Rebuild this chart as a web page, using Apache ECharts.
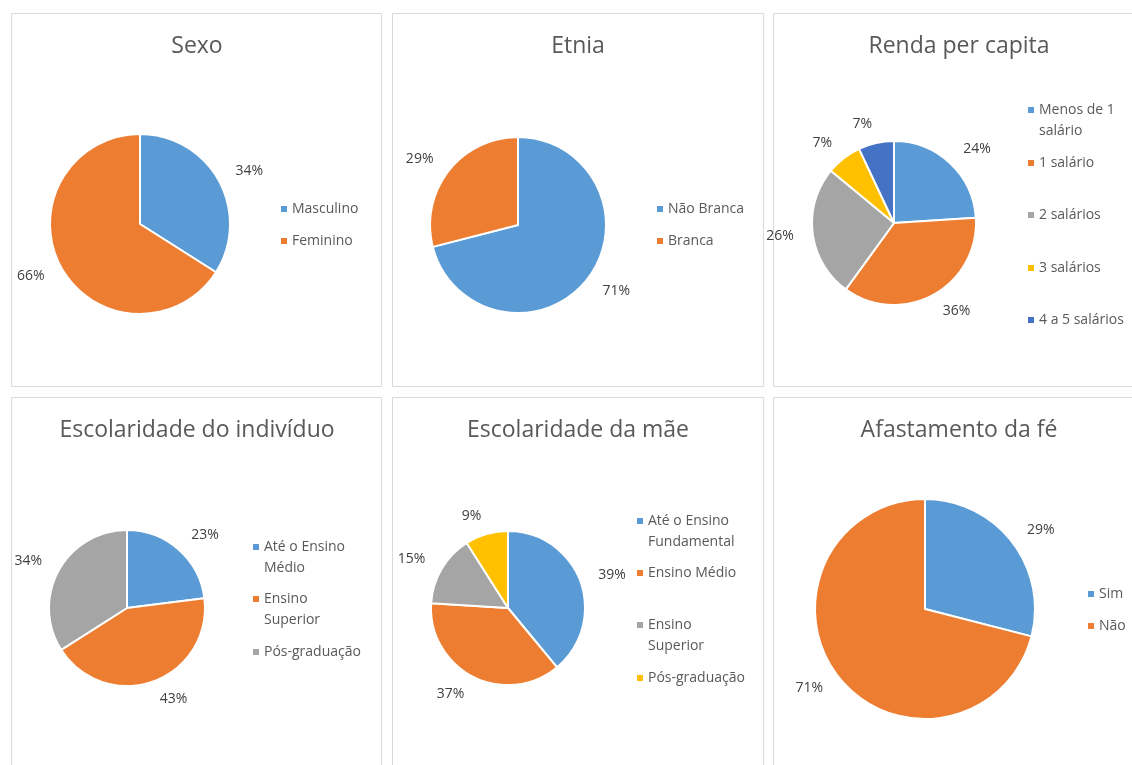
<!DOCTYPE html>
<html>
<head>
<meta charset="utf-8">
<script src="https://cdn.jsdelivr.net/npm/echarts@6/dist/echarts.min.js"></script>
<style>
html,body{margin:0;padding:0;background:#fff;}
#c{width:1132px;height:765px;}
</style>
</head>
<body>
<div id="c"></div>
<script>
// ---- data ----
const sexoCategories = ['Masculino', 'Feminino'];
const sexoValues = [34, 66];
const sexoLegend = ['Masculino', 'Feminino'];

const etniaCategories = ['Não Branca', 'Branca'];
const etniaValues = [71, 29];
const etniaLegend = ['Não Branca', 'Branca'];

const rendaCategories = ['Menos de 1 salário', '1 salário', '2 salários', '3 salários', '4 a 5 salários'];
const rendaValues = [24, 36, 26, 7, 7];
const rendaLegend = ['Menos de 1\nsalário', '1 salário', '2 salários', '3 salários', '4 a 5 salários'];

const escIndCategories = ['Até o Ensino Médio', 'Ensino Superior', 'Pós-graduação'];
const escIndValues = [23, 43, 34];
const escIndLegend = ['Até o Ensino\nMédio', 'Ensino\nSuperior', 'Pós-graduação'];

const escMaeCategories = ['Até o Ensino Fundamental', 'Ensino Médio', 'Ensino Superior', 'Pós-graduação'];
const escMaeValues = [39, 37, 15, 9];
const escMaeLegend = ['Até o Ensino\nFundamental', 'Ensino Médio', 'Ensino\nSuperior', 'Pós-graduação'];

const afastCategories = ['Sim', 'Não'];
const afastValues = [29, 71];
const afastLegend = ['Sim', 'Não'];

// ---- styling / layout ----
const FONT = '"Open Sans", "Noto Sans", sans-serif';
const COLORS = ['#5B9BD5', '#ED7D31', '#A5A5A5', '#FFC000', '#4472C4'];
const LH = 21;

const panels = [
  {title: 'Sexo', cats: sexoCategories, vals: sexoValues, leg: sexoLegend,
   center: [140, 224], r: 90, titleX: 197, titleY: 46, legX: 281, legY: [209, 241]},
  {title: 'Etnia', cats: etniaCategories, vals: etniaValues, leg: etniaLegend,
   center: [518, 225], r: 88, titleX: 578, titleY: 46, legX: 657, legY: [209, 241]},
  {title: 'Renda per capita', cats: rendaCategories, vals: rendaValues, leg: rendaLegend,
   center: [894, 223], r: 82, titleX: 959, titleY: 46, legX: 1028, legY: [110, 163, 215, 268, 320]},
  {title: 'Escolaridade do indivíduo', cats: escIndCategories, vals: escIndValues, leg: escIndLegend,
   center: [127, 608], r: 78, titleX: 197, titleY: 430, legX: 253, legY: [547, 599, 652]},
  {title: 'Escolaridade da mãe', cats: escMaeCategories, vals: escMaeValues, leg: escMaeLegend,
   center: [508, 608], r: 77, titleX: 578, titleY: 430, legX: 637, legY: [521, 573, 625, 678]},
  {title: 'Afastamento da fé', cats: afastCategories, vals: afastValues, leg: afastLegend,
   center: [925, 609], r: 110, titleX: 959, titleY: 430, legX: 1088, legY: [594, 626]}
];

const titles = [];
const legends = [];
const series = [];

panels.forEach(function (p) {
  titles.push({
    text: p.title,
    left: p.titleX,
    top: p.titleY - 15,
    textAlign: 'center',
    padding: 0,
    textStyle: {fontFamily: FONT, fontSize: 23, fontWeight: 'normal', color: '#595959', lineHeight: 30}
  });
  series.push({
    type: 'pie',
    center: p.center,
    radius: p.r,
    startAngle: 90,
    clockwise: true,
    animation: false,
    avoidLabelOverlap: true,
    itemStyle: {borderColor: '#ffffff', borderWidth: 2},
    label: {show: true, position: 'outside', formatter: '{c}%', fontFamily: FONT, fontSize: 14,
            color: '#404040', bleedMargin: 0, distanceToLabelLine: 0, padding: [10, 0, 0, 0]},
    labelLine: {show: false, length: 19, length2: 0},
    emphasis: {disabled: true},
    data: p.cats.map(function (n, i) {
      return {name: n, value: p.vals[i], itemStyle: {color: COLORS[i]}};
    })
  });
  p.cats.forEach(function (name, i) {
    const txt = p.leg[i];
    const multi = txt.indexOf('\n') >= 0;
    const boxH = (multi ? 3 : 1) * LH;
    const shown = multi ? '\n' + txt : txt;
    legends.push({
      left: p.legX,
      top: p.legY[i] - boxH / 2,
      orient: 'vertical',
      padding: 0,
      selectedMode: false,
      icon: 'rect',
      itemWidth: 6,
      itemHeight: 6,
      formatter: function () { return shown; },
      textStyle: {fontFamily: FONT, fontSize: 14, color: '#595959', lineHeight: LH},
      data: [{name: name, itemStyle: {color: COLORS[i], borderWidth: 0}}]
    });
  });
});

const borderStyle = {fill: 'none', stroke: '#D9D9D9', lineWidth: 1};
const graphic = [
  {type: 'rect', shape: {x: 11.5, y: 13.5, width: 370, height: 373}, style: borderStyle, silent: true},
  {type: 'rect', shape: {x: 392.5, y: 13.5, width: 371, height: 373}, style: borderStyle, silent: true},
  {type: 'rect', shape: {x: 773.5, y: 13.5, width: 400, height: 373}, style: borderStyle, silent: true},
  {type: 'rect', shape: {x: 11.5, y: 397.5, width: 370, height: 400}, style: borderStyle, silent: true},
  {type: 'rect', shape: {x: 392.5, y: 397.5, width: 371, height: 400}, style: borderStyle, silent: true},
  {type: 'rect', shape: {x: 773.5, y: 397.5, width: 400, height: 400}, style: borderStyle, silent: true}
];

const chart = echarts.init(document.getElementById('c'), null, {renderer: 'canvas'});
chart.setOption({
  backgroundColor: '#ffffff',
  animation: false,
  tooltip: {show: false},
  title: titles,
  legend: legends,
  graphic: graphic,
  series: series
});
</script>
</body>
</html>
